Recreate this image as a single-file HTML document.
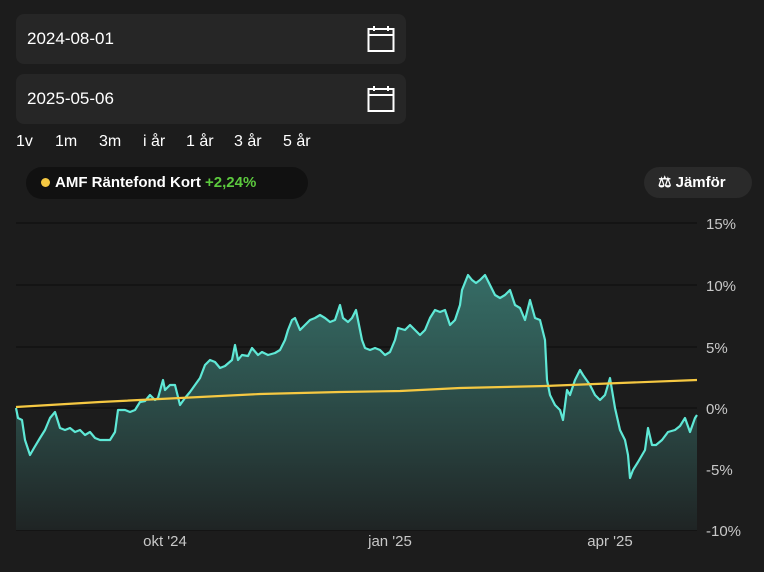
<!DOCTYPE html>
<html><head><meta charset="utf-8"><style>
body{margin:0;width:764px;height:572px;background:#1c1c1c;font-family:"Liberation Sans",sans-serif;color:#fff;position:relative;overflow:hidden}
.inp{position:absolute;left:16px;width:390px;height:50px;background:#262626;border-radius:8px;font-size:17px;line-height:50px;text-indent:11px}
.cal{position:absolute;right:11px;top:11px}
.per{position:absolute;top:133px;font-size:16px}
.pill{position:absolute;left:26px;top:167px;width:282px;height:32px;background:#111;border-radius:16px;font-size:15px;font-weight:bold;line-height:32px}
.cmp{position:absolute;left:644px;top:167px;width:108px;height:31px;background:#2a2a2a;border-radius:16px;font-size:15px;font-weight:bold;line-height:31px}
svg text{font-family:"Liberation Sans",sans-serif;font-size:15px;fill:#c8c8c8}
</style></head><body>
<div class="inp" style="top:14px">2024-08-01<svg class="cal" width="28" height="28" viewBox="0 0 28 28"><rect x="1.5" y="4" width="25" height="22" fill="none" stroke="#fff" stroke-width="2"/><line x1="1.5" y1="10" x2="26.5" y2="10" stroke="#fff" stroke-width="2"/><line x1="7" y1="1" x2="7" y2="6" stroke="#fff" stroke-width="2"/><line x1="21" y1="1" x2="21" y2="6" stroke="#fff" stroke-width="2"/></svg></div>
<div class="inp" style="top:74px">2025-05-06<svg class="cal" width="28" height="28" viewBox="0 0 28 28"><rect x="1.5" y="4" width="25" height="22" fill="none" stroke="#fff" stroke-width="2"/><line x1="1.5" y1="10" x2="26.5" y2="10" stroke="#fff" stroke-width="2"/><line x1="7" y1="1" x2="7" y2="6" stroke="#fff" stroke-width="2"/><line x1="21" y1="1" x2="21" y2="6" stroke="#fff" stroke-width="2"/></svg></div>
<span class="per" style="left:16px">1v</span><span class="per" style="left:55px">1m</span><span class="per" style="left:99px">3m</span><span class="per" style="left:143px">i år</span><span class="per" style="left:186px">1 år</span><span class="per" style="left:234px">3 år</span><span class="per" style="left:283px">5 år</span>
<div class="pill"><span style="display:inline-block;width:9px;height:9px;border-radius:50%;background:#f5c842;margin:0 5px 0 15px"></span>AMF Räntefond Kort <span style="color:#5cc93e">+2,24%</span></div>
<div class="cmp"><span style="margin-left:14px">⚖</span> Jämför</div>
<svg width="764" height="572" style="position:absolute;left:0;top:0">
<defs><linearGradient id="g" x1="0" y1="0" x2="0" y2="1"><stop offset="0" stop-color="#3a7a72" stop-opacity="0.85"/><stop offset="1" stop-color="#1f2424" stop-opacity="1"/></linearGradient></defs>
<g stroke="#111" stroke-width="1.5"><line x1="16" y1="223" x2="697" y2="223"/><line x1="16" y1="285" x2="697" y2="285"/><line x1="16" y1="347" x2="697" y2="347"/><line x1="16" y1="408" x2="697" y2="408"/><line x1="16" y1="469" x2="697" y2="469"/><line x1="16" y1="530" x2="697" y2="530"/></g>
<path id="p" fill="url(#g)" d="M16,530 L16,408 L18,418 L22,420 L25,440 L30,455 L34,448 L40,438 L45,430 L50,418 L55,412 L60,428 L65,430 L70,428 L75,432 L80,430 L85,435 L90,432 L95,438 L100,440 L110,440 L115,432 L118,410 L125,410 L130,412 L135,410 L140,402 L145,401 L150,395 L155,400 L158,398 L163,380 L165,390 L170,385 L175,385 L180,405 L185,398 L190,392 L195,385 L200,378 L205,365 L210,360 L215,362 L220,368 L225,366 L232,360 L235,345 L238,360 L242,355 L248,356 L252,348 L258,355 L262,352 L268,355 L275,353 L280,350 L285,340 L288,330 L292,320 L295,318 L300,330 L305,325 L310,320 L315,318 L320,315 L325,318 L330,322 L335,320 L340,305 L343,318 L348,322 L352,318 L356,310 L360,330 L362,340 L365,348 L370,350 L375,348 L380,350 L385,355 L390,352 L395,340 L398,328 L405,330 L410,325 L415,330 L420,335 L425,330 L430,318 L435,310 L440,312 L445,310 L450,325 L455,320 L460,305 L462,290 L468,275 L472,280 L476,283 L480,280 L485,275 L490,285 L495,295 L500,298 L505,295 L510,290 L515,305 L520,308 L525,320 L530,300 L535,318 L540,320 L545,340 L547,380 L550,395 L555,405 L560,410 L563,420 L567,390 L570,395 L575,380 L580,370 L583,375 L590,385 L595,395 L600,400 L605,395 L610,378 L615,408 L620,430 L625,440 L628,455 L630,478 L633,470 L638,462 L645,450 L648,428 L652,445 L656,445 L662,440 L668,432 L675,430 L680,426 L685,418 L690,432 L695,418 L697,415 L697,530 Z"/>
<path fill="none" stroke="#5fe8d6" stroke-width="2.2" stroke-linejoin="round" d="M16,408 L18,418 L22,420 L25,440 L30,455 L34,448 L40,438 L45,430 L50,418 L55,412 L60,428 L65,430 L70,428 L75,432 L80,430 L85,435 L90,432 L95,438 L100,440 L110,440 L115,432 L118,410 L125,410 L130,412 L135,410 L140,402 L145,401 L150,395 L155,400 L158,398 L163,380 L165,390 L170,385 L175,385 L180,405 L185,398 L190,392 L195,385 L200,378 L205,365 L210,360 L215,362 L220,368 L225,366 L232,360 L235,345 L238,360 L242,355 L248,356 L252,348 L258,355 L262,352 L268,355 L275,353 L280,350 L285,340 L288,330 L292,320 L295,318 L300,330 L305,325 L310,320 L315,318 L320,315 L325,318 L330,322 L335,320 L340,305 L343,318 L348,322 L352,318 L356,310 L360,330 L362,340 L365,348 L370,350 L375,348 L380,350 L385,355 L390,352 L395,340 L398,328 L405,330 L410,325 L415,330 L420,335 L425,330 L430,318 L435,310 L440,312 L445,310 L450,325 L455,320 L460,305 L462,290 L468,275 L472,280 L476,283 L480,280 L485,275 L490,285 L495,295 L500,298 L505,295 L510,290 L515,305 L520,308 L525,320 L530,300 L535,318 L540,320 L545,340 L547,380 L550,395 L555,405 L560,410 L563,420 L567,390 L570,395 L575,380 L580,370 L583,375 L590,385 L595,395 L600,400 L605,395 L610,378 L615,408 L620,430 L625,440 L628,455 L630,478 L633,470 L638,462 L645,450 L648,428 L652,445 L656,445 L662,440 L668,432 L675,430 L680,426 L685,418 L690,432 L695,418 L697,415"/>
<path fill="none" stroke="#f5c842" stroke-width="2.2" d="M16,407 L100,402 L180,398 L260,394 L340,392 L400,391 L460,388 L545,386 L620,383 L697,380"/>
<text x="706" y="229">15%</text><text x="706" y="291">10%</text><text x="706" y="353">5%</text><text x="706" y="414">0%</text><text x="706" y="475">-5%</text><text x="706" y="536">-10%</text>
<text x="165" y="546" text-anchor="middle">okt '24</text><text x="390" y="546" text-anchor="middle">jan '25</text><text x="610" y="546" text-anchor="middle">apr '25</text>
</svg>
</body></html>
